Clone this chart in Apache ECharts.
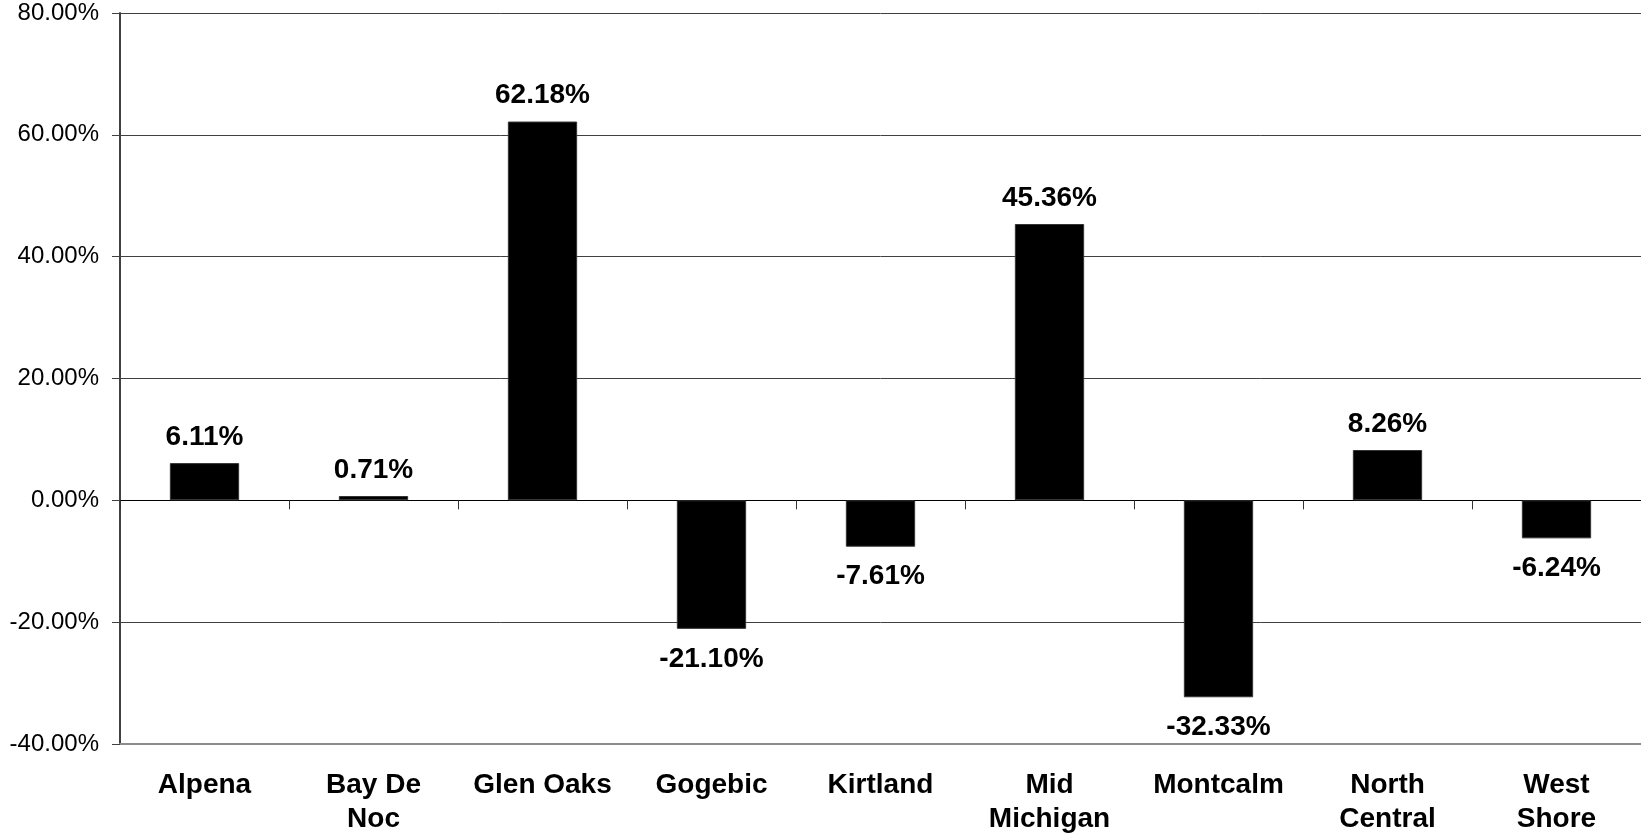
<!DOCTYPE html>
<html>
<head>
    <meta charset="UTF-8">
    <title>Change by college</title>
    <script src="https://cdn.jsdelivr.net/npm/echarts@6/dist/echarts.min.js"></script>
    <style>
        html, body { margin: 0; padding: 0; background: #fff; }
        #main { width: 1641px; height: 836px; }
    </style>
</head>
<body>
<div id="main"></div>
<script>
    var colleges = ['Alpena', 'Bay De\nNoc', 'Glen Oaks', 'Gogebic', 'Kirtland',
        'Mid\nMichigan', 'Montcalm', 'North\nCentral', 'West\nShore'];
    var changes = [6.11, 0.71, 62.18, -21.10, -7.61, 45.36, -32.33, 8.26, -6.24];
    var yTicks = { min: -40, max: 80, step: 20 };

    var font = '"Liberation Sans", Arial, sans-serif';
    var myChart = echarts.init(document.getElementById('main'));

    var barData = changes.map(function (v) {
        return {
            value: v,
            label: {
                position: v < 0 ? 'bottom' : 'top',
                distance: v < 0 ? 16 : 12
            }
        };
    });

    var option = {
        animation: false,
        backgroundColor: '#fff',
        grid: { left: 120, right: -2, top: 13, bottom: 92 },
        xAxis: [{
            type: 'category',
            data: colleges,
            position: 'bottom',
            axisLine: { onZero: false, lineStyle: { color: '#8c8c8c', width: 2 } },
            axisTick: { show: false },
            axisLabel: {
                color: '#000',
                fontFamily: font,
                fontWeight: 'bold',
                fontSize: 28,
                lineHeight: 34,
                margin: 24,
                interval: 0
            }
        }, {
            type: 'category',
            data: colleges,
            position: 'bottom',
            axisLine: { onZero: true, lineStyle: { color: '#000', width: 1 } },
            axisTick: { show: true, inside: false, length: 9, lineStyle: { color: '#333' } },
            axisLabel: { show: false }
        }],
        yAxis: {
            type: 'value',
            min: yTicks.min,
            max: yTicks.max,
            interval: yTicks.step,
            axisLine: { show: true, lineStyle: { color: '#404040', width: 2 } },
            axisTick: { show: true, length: 8, lineStyle: { color: '#404040' } },
            splitLine: { lineStyle: { color: '#404040', width: 1 } },
            axisLabel: {
                color: '#000',
                fontFamily: font,
                fontSize: 24,
                margin: 21,
                formatter: function (v) { return v.toFixed(2) + '%'; }
            }
        },
        series: [{
            type: 'bar',
            xAxisIndex: 0,
            data: barData,
            barCategoryGap: '59%',
            itemStyle: { color: '#000', borderColor: '#333', borderWidth: 1 },
            label: {
                show: true,
                color: '#000',
                fontFamily: font,
                fontWeight: 'bold',
                fontSize: 28,
                formatter: function (p) { return p.value.toFixed(2) + '%'; }
            }
        }]
    };

    myChart.setOption(option);
</script>
</body>
</html>
